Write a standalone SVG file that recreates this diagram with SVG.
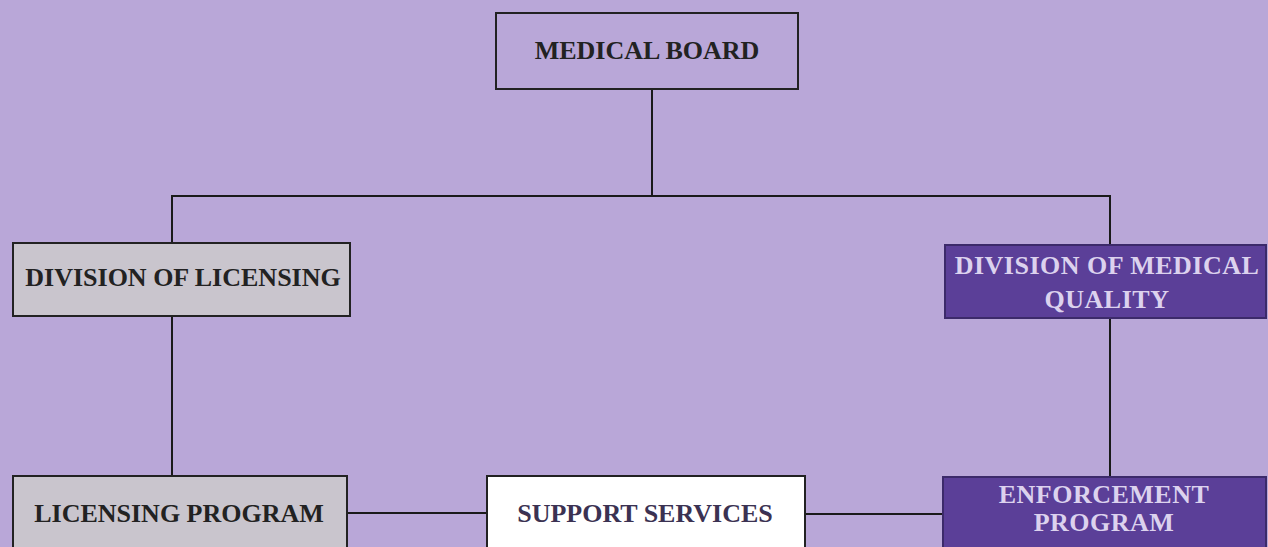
<svg xmlns="http://www.w3.org/2000/svg" width="1268" height="547" viewBox="0 0 1268 547">
<style>
.box{stroke:#222;stroke-width:2}
.gray{fill:#c9c5cd}
.white{fill:#ffffff}
.purple{fill:#5b3f98;stroke:#3c2a6a}
.frame{fill:none}
text{font-family:"Liberation Serif","Times New Roman",serif;font-weight:bold;font-size:26px;text-anchor:middle}
.dark{fill:#222}
.sup{fill:#3b3252}
.light{fill:#dcd2ee;letter-spacing:0.5px}
.conn{stroke:#1a1a1a;stroke-width:2;fill:none}
</style>
<rect width="1268" height="547" fill="#b9a7d8"/>
<g id="connectors">
<line class="conn" x1="652" y1="89" x2="652" y2="196"/>
<polyline class="conn" points="172,243 172,196 1110,196 1110,245"/>
<line class="conn" x1="172" y1="316" x2="172" y2="476"/>
<line class="conn" x1="1110" y1="318" x2="1110" y2="477"/>
<line class="conn" x1="347" y1="513" x2="487" y2="513"/>
<line class="conn" x1="805" y1="514" x2="943" y2="514"/>
</g>
<g id="medical-board">
<rect class="box frame" x="496" y="13" width="302" height="76"/>
<text class="dark" x="647" y="59">MEDICAL BOARD</text>
</g>
<g id="division-licensing">
<rect class="box gray" x="13" y="243" width="337" height="73"/>
<text class="dark" x="183" y="286">DIVISION OF LICENSING</text>
</g>
<g id="division-medical-quality">
<rect class="box purple" x="945" y="245" width="321" height="73"/>
<text class="light" x="1107" y="274">DIVISION OF MEDICAL</text>
<text class="light" x="1107" y="308">QUALITY</text>
</g>
<g id="licensing-program">
<rect class="box gray" x="13" y="476" width="334" height="80"/>
<text class="dark" x="179" y="522">LICENSING PROGRAM</text>
</g>
<g id="support-services">
<rect class="box white" x="487" y="476" width="318" height="80"/>
<text class="sup" x="645" y="522">SUPPORT SERVICES</text>
</g>
<g id="enforcement-program">
<rect class="box purple" x="943" y="477" width="323" height="80"/>
<text class="light" x="1104" y="503">ENFORCEMENT</text>
<text class="light" x="1104" y="531">PROGRAM</text>
</g>
</svg>
